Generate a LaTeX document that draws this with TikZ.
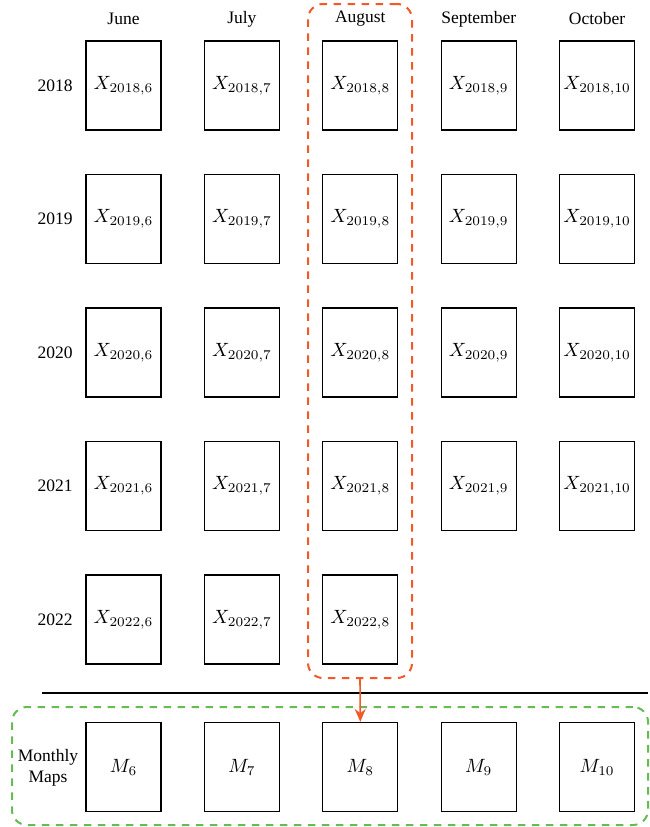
\documentclass[tikz,border=0pt]{standalone}
\usepackage{graphicx}
\usepackage{fontspec}
\setmainfont{Liberation Serif}
\usetikzlibrary{arrows.meta}
\definecolor{orng}{RGB}{240,90,40}
\definecolor{grn}{RGB}{102,187,85}
\newcommand{\bigmath}[1]{\scalebox{1.92}{$#1$}}
\begin{document}
\begin{tikzpicture}[x=1pt,y=-1pt,
  cell/.style={draw, line width=1.2pt, minimum width=75pt, minimum height=89pt, inner sep=0pt},
  lab/.style={font=\fontsize{17.5}{21}\selectfont, inner sep=0pt},
  region/.style={line width=2pt, dash pattern=on 7.5pt off 6.5pt, rounded corners=15pt, inner sep=0pt}]
\useasboundingbox (0,0) rectangle (650,827);
% month labels and cells
\foreach \mn [count=\i from 0] in {June,July,August,September,October}{
  \node[lab] (mon\i) at ({123.5+118.4*\i},19) {\mn};
}
\foreach \y [count=\j from 0] in {2018,2019,2020,2021,2022}{
  \node[lab] (yr\y) at (55,{85.5+133.5*\j}) {\y};
}
\foreach \y [count=\j from 0] in {2018,2019,2020,2021}{
  \foreach \m [count=\i from 0] in {6,7,8,9,10}{
    \node[cell] (X\y-\m) at ({123.5+118.4*\i},{85.5+133.5*\j}) {\bigmath{X_{\y,\m}}};
  }
}
\foreach \m [count=\i from 0] in {6,7,8}{
  \node[cell] (X2022-\m) at ({123.5+118.4*\i},619.5) {\bigmath{X_{2022,\m}}};
}
\foreach \m [count=\i from 0] in {6,7,8,9,10}{
  \node[cell] (M\m) at ({123.5+118.4*\i},767) {\bigmath{M_{\m}}};
}
% regions
\node[region, draw=orng, minimum width=104pt, minimum height=674pt] (aug) at (360,341) {};
\node[region, draw=grn, minimum width=636pt, minimum height=118pt] (maps) at (330,766) {};
\node[lab, align=center] (mm) at (48,768) {Monthly\\Maps};
% separator
\coordinate (l1) at (42,693);
\coordinate (l2) at (648,693);
\draw[line width=1.2pt] (l1) -- (l2);
% arrow
\draw[orng, line width=1.6pt, -{Stealth[length=13pt,width=11pt]}] (aug.south) -- (M8.north);
\end{tikzpicture}
\end{document}
